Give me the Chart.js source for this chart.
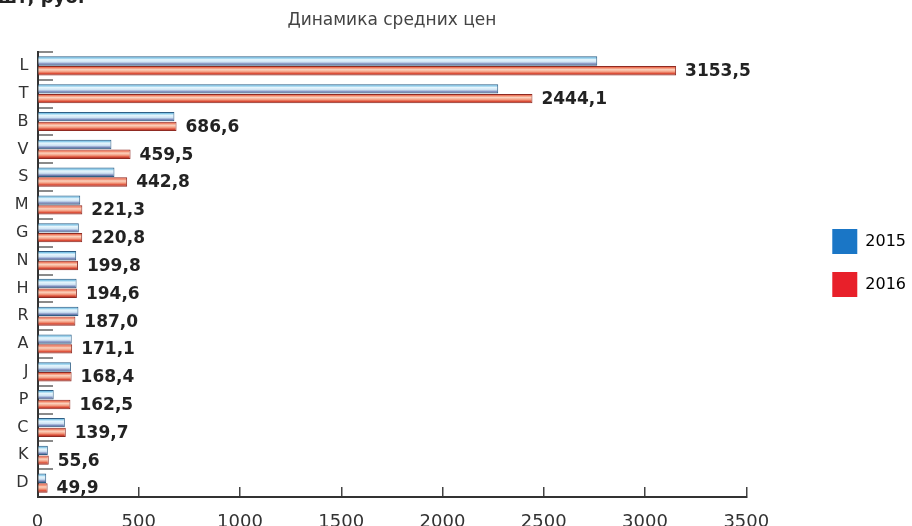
<!DOCTYPE html>
<html>
<head>
<meta charset="utf-8">
<script src="https://cdn.jsdelivr.net/npm/chart.js@4/dist/chart.umd.min.js"></script>
<style>
  html, body { margin: 0; padding: 0; background: #ffffff; overflow: hidden; }
  #wrap { position: relative; width: 912px; height: 526px; }
  #cut { position: absolute; left: -2px; top: -14px; font: bold 18px "DejaVu Sans", sans-serif; color: #222; white-space: nowrap; }
</style>
</head>
<body>
<div id="wrap">
  <canvas id="c" width="912" height="526"></canvas>
  <div id="cut">шт, руб.</div>
</div>
<script>
const categories = ['L', 'T', 'B', 'V', 'S', 'M', 'G', 'N', 'H', 'R', 'A', 'J', 'P', 'C', 'K', 'D'];
const values2015 = [2764, 2275, 676, 365, 380, 211, 204, 191, 193, 202, 169, 165, 80, 135, 51, 43];
const values2016 = [3153.5, 2444.1, 686.6, 459.5, 442.8, 221.3, 220.8, 199.8, 194.6, 187.0, 171.1, 168.4, 162.5, 139.7, 55.6, 49.9];
const seriesNames = ['2015', '2016'];
const xTicks = [0, 500, 1000, 1500, 2000, 2500, 3000, 3500];
const titleText = 'Динамика средних цен';

const legendColors = ['#1a76c6', '#e8202a'];
const gradStops = [
  [[0, '#2e86b8'], [0.15, '#7cc3e6'], [0.35, '#e6f6fd'], [0.6, '#cfe3f4'], [0.8, '#7f8fbf'], [1, '#2f3862']],
  [[0, '#d63b2a'], [0.15, '#ee7558'], [0.38, '#fbd2bd'], [0.6, '#f4a084'], [0.8, '#dc4c36'], [1, '#842622']]
];

const barGradientPlugin = {
  id: 'barGradient',
  beforeDatasetsDraw(chart) {
    const ctx = chart.ctx;
    chart.data.datasets.forEach((ds, i) => {
      const meta = chart.getDatasetMeta(i);
      meta.data.forEach(el => {
        const h = el.height;
        const top = el.y - h / 2;
        const g = ctx.createLinearGradient(0, top, 0, top + h);
        gradStops[i].forEach(s => g.addColorStop(s[0], s[1]));
        el.options.backgroundColor = g;
      });
    });
  }
};

const valueLabelPlugin = {
  id: 'valueLabels',
  afterDatasetsDraw(chart) {
    const ctx = chart.ctx;
    const meta = chart.getDatasetMeta(1);
    ctx.save();
    ctx.font = 'bold 17px "DejaVu Sans", sans-serif';
    ctx.fillStyle = '#222';
    ctx.textAlign = 'left';
    ctx.textBaseline = 'middle';
    meta.data.forEach((el, idx) => {
      const v = values2016[idx];
      ctx.fillText(v.toFixed(1).replace('.', ','), el.x + 9, el.y + 1);
    });
    ctx.restore();
  }
};

function stubGrad(chart) {
  const a = chart.chartArea;
  if (!a) return 'rgba(0,0,0,0)';
  const g = chart.ctx.createLinearGradient(a.left, 0, a.left + 16, 0);
  g.addColorStop(0, '#8a8a8a');
  g.addColorStop(0.999, '#8a8a8a');
  g.addColorStop(1, 'rgba(0,0,0,0)');
  return g;
}
function tickGrad(chart) {
  const a = chart.chartArea;
  if (!a) return 'rgba(0,0,0,0)';
  const g = chart.ctx.createLinearGradient(0, a.bottom - 10, 0, a.bottom);
  g.addColorStop(0, 'rgba(0,0,0,0)');
  g.addColorStop(0.001, '#444');
  g.addColorStop(1, '#444');
  return g;
}

new Chart(document.getElementById('c'), {
  type: 'bar',
  data: {
    labels: categories,
    datasets: [
      { label: seriesNames[0], data: values2015, backgroundColor: () => '#cfe6f5', borderColor: '#2f5f86', borderWidth: 1 },
      { label: seriesNames[1], data: values2016, backgroundColor: () => '#f6b9a4', borderColor: '#8f2a22', borderWidth: 1 }
    ]
  },
  options: {
    indexAxis: 'y',
    responsive: false,
    animation: false,
    devicePixelRatio: 1,
    layout: { padding: { left: 0, right: -4, top: 0, bottom: 0 } },
    datasets: { bar: { categoryPercentage: 0.7, barPercentage: 0.96 } },
    scales: {
      x: {
        type: 'linear',
        min: 0,
        max: 3500,
        afterBuildTicks: s => { s.ticks = xTicks.map(v => ({ value: v })); },
        afterFit: s => { s.height = 29; },
        grid: { color: c => tickGrad(c.chart), lineWidth: 1.5, drawTicks: false },
        border: { display: true, color: '#333', width: 2 },
        ticks: {
          padding: 16, color: '#333', maxRotation: 0,
          font: { family: '"DejaVu Sans", sans-serif', size: 18, lineHeight: 1 },
          callback: v => String(v)
        }
      },
      y: {
        type: 'category',
        afterFit: s => { s.width = 37.5; },
        grid: { offset: true, color: c => stubGrad(c.chart), lineWidth: 2, drawTicks: false },
        border: { display: true, color: '#333', width: 2 },
        ticks: { padding: 9, color: '#333', font: { family: '"DejaVu Sans", sans-serif', size: 16 } }
      },
      y2: {
        type: 'linear',
        position: 'right',
        display: true,
        grid: { display: false, drawTicks: false },
        border: { display: false },
        ticks: { display: false },
        afterFit: s => { s.width = 68; }
      }
    },
    plugins: {
      title: {
        display: true,
        text: titleText,
        fullSize: false,
        color: '#444',
        font: { family: '"DejaVu Sans", sans-serif', size: 17, weight: 'normal', lineHeight: 1.2 },
        padding: { top: 10, bottom: 21.6 }
      },
      legend: {
        position: 'right',
        fullSize: true,
        labels: {
          boxWidth: 25,
          boxHeight: 25,
          padding: 18,
          color: '#333',
          font: { family: '"DejaVu Sans", sans-serif', size: 16 },
          generateLabels: chart => chart.data.datasets.map((ds, i) => ({
            text: ds.label, fillStyle: legendColors[i], strokeStyle: legendColors[i], lineWidth: 0, datasetIndex: i, hidden: false
          }))
        }
      },
      tooltip: { enabled: false }
    }
  },
  plugins: [barGradientPlugin, valueLabelPlugin]
});
</script>
</body>
</html>
